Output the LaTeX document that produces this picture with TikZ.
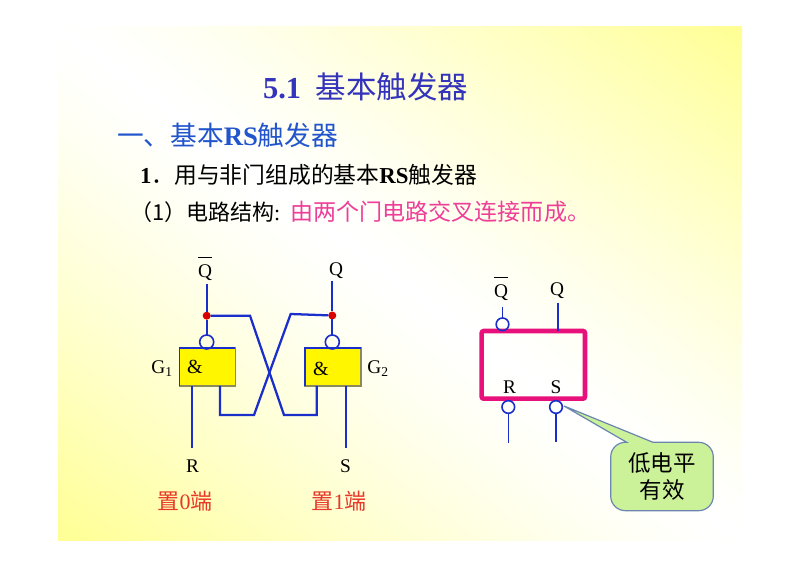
\documentclass[tikz,border=0pt]{standalone}
\usepackage{fontspec}
\setmainfont{Liberation Serif}
\newfontfamily\cjk{Noto Sans CJK SC}
\newcommand{\zh}[1]{{\cjk #1}}
\newcommand{\pxfont}[1]{\fontsize{\dimexpr #1pt*3/4\relax}{\dimexpr #1pt*9/10\relax}\selectfont}
\newcommand{\qbar}{$\overline{\mbox{Q\rule{0pt}{14pt}}}$}
\pgfdeclarefunctionalshading{slidebg}{\pgfpointorigin}{\pgfpoint{100bp}{100bp}}{}{add 100 sub abs 50 div 1.3 exp 0.42 mul 1 exch sub 1 1 3 -1 roll}
\definecolor{wire}{HTML}{1A2ECC}
\definecolor{pinkbox}{HTML}{E8107A}
\definecolor{pinktxt}{HTML}{EE3F98}
\definecolor{redlab}{HTML}{E8382A}
\definecolor{calloutfill}{HTML}{CCF299}
\definecolor{calloutline}{HTML}{6A86B0}
\definecolor{titleA}{HTML}{3333BB}
\definecolor{titleB}{HTML}{2255CC}
\definecolor{gateedge}{HTML}{8A8A5A}
\definecolor{gatefill}{HTML}{FFF600}
\tikzset{
  txt/.style={inner sep=0pt,outer sep=0pt,anchor=west,align=left},
  lab/.style={inner sep=0pt,outer sep=0pt,font=\fontsize{14.5}{16}\selectfont,text=black},
  redtxt/.style={inner sep=0pt,outer sep=0pt,font=\fontsize{16.5}{18}\selectfont,text=redlab},
  gate/.style={draw=gateedge,fill=gatefill,line width=1pt,minimum width=42pt,minimum height=28.5pt,inner sep=0pt,outer sep=0pt},
  gatetop/.style={draw=wire,line width=1.2pt},
  bubble/.style={circle,draw=wire,line width=1.2pt,inner sep=0pt,outer sep=0pt},
  wirel/.style={draw=wire,line width=1.7pt,line join=miter},
  thin wire/.style={draw=wire,line width=1.2pt},
  junction/.style={circle,fill=red!85!black,inner sep=0pt,minimum size=6pt,outer sep=0pt},
}
\begin{document}
\begin{tikzpicture}[x=0.75pt,y=-0.75pt]
\useasboundingbox (0,0) rectangle (800,566);
\fill[white] (0,0) rectangle (800,566);
\shade[shading=slidebg] (58,27) rectangle (742,540);
% titles
\node[txt,font=\pxfont{30.5},text=titleA] (t1) at (263,87) {\textbf{5.1}\hspace{11pt}\zh{基本触发器}};
\node[txt,font=\pxfont{26.7},text=titleB] (t2) at (117,135) {\zh{一、基本}\textbf{RS}\zh{触发器}};
\node[txt,font=\pxfont{22.8},text=black] (t3) at (140,175) {\textbf{1}\zh{．}\zh{用与非门组成的基本}\textbf{RS}\zh{触发器}};
\node[txt,font=\pxfont{22},text=black] (t4) at (130,212) {\zh{（1）电路结构}:\hspace{7.5pt}\textcolor{pinktxt}{\fontsize{17.3}{20}\selectfont\zh{由两个门电路交叉连接而成。}}};
% left circuit
\node[gate] (g1) at (207.3,367) {};
\node[gate] (g2) at (333,367) {};
\draw[gatetop] (g1.south west) -- (g1.north west) -- (g1.north east);
\draw[gatetop] (g2.south west) -- (g2.north west) -- (g2.north east);
\node[lab,font=\fontsize{15}{16}\selectfont] (amp1) at (195,367) {\&};
\node[lab,font=\fontsize{15}{16}\selectfont] (amp2) at (321,369) {\&};
\node[bubble,minimum size=10.5pt] (b1) at (206.7,342) {};
\node[bubble,minimum size=10.5pt] (b2) at (332.3,342) {};
\node[junction] (j1) at (206.7,315.7) {};
\node[junction] (j2) at (332.3,315.5) {};
\coordinate (q1end) at (206.7,284);
\coordinate (q2end) at (332.3,281.5);
\draw[wirel] (q1end) -- (j1) -- (b1);
\draw[wirel] (q2end) -- (j2) -- (b2);
\coordinate (a1) at (250,315.7);
\coordinate (a2) at (284,415);
\coordinate (a3) at (316.7,415);
\coordinate (a4) at (316.7,386);
\coordinate (c1) at (290.7,314);
\coordinate (c2) at (254,415);
\coordinate (c3) at (220,415);
\coordinate (c4) at (220,386);
\draw[wirel] (j1) -- (a1) -- (a2) -- (a3) -- (a4);
\draw[wirel] (j2) -- (c1) -- (c2) -- (c3) -- (c4);
\coordinate (r1s) at (192.3,386);
\coordinate (r1e) at (192.3,448);
\coordinate (s1s) at (345.7,386);
\coordinate (s1e) at (345.7,448);
\draw[wirel] (r1s) -- (r1e);
\draw[wirel] (s1s) -- (s1e);
\node[lab,anchor=base] (lq1) at (205,277.5) {\qbar};
\node[lab] (lq2) at (336,270.5) {Q};
\node[lab] (lg1) at (162,369) {G\textsubscript{1}};
\node[lab] (lg2) at (378,369) {G\textsubscript{2}};
\node[lab] (lr1) at (192.5,466) {R};
\node[lab] (ls1) at (345.5,466) {S};
\node[redtxt] (set0) at (185,501) {\zh{置}0\zh{端}};
\node[redtxt] (set1) at (339,501) {\zh{置}1\zh{端}};
% right symbol
\draw[draw=pinkbox,line width=3.4pt,rounded corners=1.5pt] (481.7,331) rectangle (585,398.7);
\node[bubble,minimum size=9.5pt] (bq) at (502.5,324.3) {};
\node[bubble,minimum size=9.5pt] (br) at (508.3,407) {};
\node[bubble,minimum size=9.5pt] (bs) at (556,407) {};
\coordinate (qbt) at (502.5,306.7);
\coordinate (qt) at (558,303);
\coordinate (qb) at (558,331);
\coordinate (rb) at (508.3,443);
\coordinate (sb) at (556,442);
\draw[thin wire] (qbt) -- (bq);
\draw[thin wire] (qt) -- (qb);
\draw[thin wire] (br) -- (rb);
\draw[thin wire] (bs) -- (sb);
\node[lab,anchor=base] (lq3) at (501,297.5) {\qbar};
\node[lab] (lq4) at (557,290.5) {Q};
\node[lab] (lr2) at (509.5,387) {R};
\node[lab] (ls2) at (556,387) {S};
% callout
\coordinate (tip) at (564,406);
\coordinate (p1) at (653,442.3);
\coordinate (p2) at (626.7,442.3);
\draw[draw=calloutline,fill=calloutfill,line width=0.9pt]
  (tip) -- (p1) [rounded corners=11pt] -- (713.3,442.3) -- (713.3,510.7) -- (610.7,510.7) -- (610.7,442.3) [sharp corners] -- (p2) -- cycle;
\node[inner sep=0pt,font=\pxfont{22.5},align=center] (cl1) at (662,463) {\zh{低电平}};
\node[inner sep=0pt,font=\pxfont{22.5},align=center] (cl2) at (662,490) {\zh{有效}};
\end{tikzpicture}
\end{document}
